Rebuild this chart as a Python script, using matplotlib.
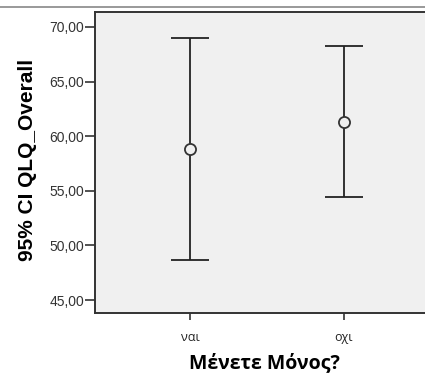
import numpy as np
import matplotlib.pyplot as plt
from matplotlib.lines import Line2D

# Μέσος όρος και 95% CI του QLQ_Overall ανά ομάδα
categories = ["ναι", "οχι"]
means = [58.8, 61.3]
ci_low = [48.7, 54.4]
ci_high = [69.0, 68.25]
yticks = [45, 50, 55, 60, 65, 70]

plt.rcParams['font.family'] = ['Liberation Sans', 'DejaVu Sans']

fig = plt.figure(figsize=(4.25, 3.78), dpi=100)
fig.patch.set_facecolor('white')

# άξονες: η δεξιά πλευρά βγαίνει έξω από το καμβά
ax = fig.add_axes([95 / 425, 65 / 378, 344 / 425, 301 / 378])
ax.set_facecolor('#F0F0F0')

x = np.arange(len(categories))
means = np.array(means)
yerr = np.vstack([means - np.array(ci_low), np.array(ci_high) - means])
ax.errorbar(x, means, yerr=yerr, fmt='o', color='#222222', ecolor='#222222',
            elinewidth=1.3, capsize=14, capthick=1.6, markersize=8,
            markerfacecolor='#F0F0F0', markeredgewidth=1.3, markeredgecolor='#333333')

ax.set_xlim(-0.617, 1.617)
ax.set_ylim(43.81, 71.37)
ax.set_yticks(yticks)
ax.set_yticklabels([f"{v:.2f}".replace('.', ',') for v in yticks],
                   fontsize=10, color='#333333')
ax.set_xticks(x)
ax.set_xticklabels(categories, fontsize=9, color='#222222', family=['Open Sans', 'DejaVu Sans'])
ax.tick_params(axis='y', length=7, width=1.2, color='#333333', pad=1)
ax.tick_params(axis='x', length=5, width=1.2, color='#333333', pad=8)

for side in ['left', 'bottom', 'top', 'right']:
    ax.spines[side].set_color('#333333')
    ax.spines[side].set_linewidth(1.4)

ax.set_ylabel("95% CI QLQ_Overall", fontsize=15, fontweight='bold')
ax.yaxis.set_label_coords(-0.169, 0.51)
ax.set_xlabel("Μένετε Μόνος?", fontsize=14, fontweight='bold',
              family=['Open Sans', 'DejaVu Sans'])
ax.xaxis.set_label_coords(0.493, -0.135)

# οριζόντια γραμμή στο πάνω μέρος
fig.add_artist(Line2D([0, 1], [1 - 6.5 / 378] * 2, transform=fig.transFigure,
                      color='#888888', linewidth=1.2))

fig.savefig("out.png", dpi=100)
